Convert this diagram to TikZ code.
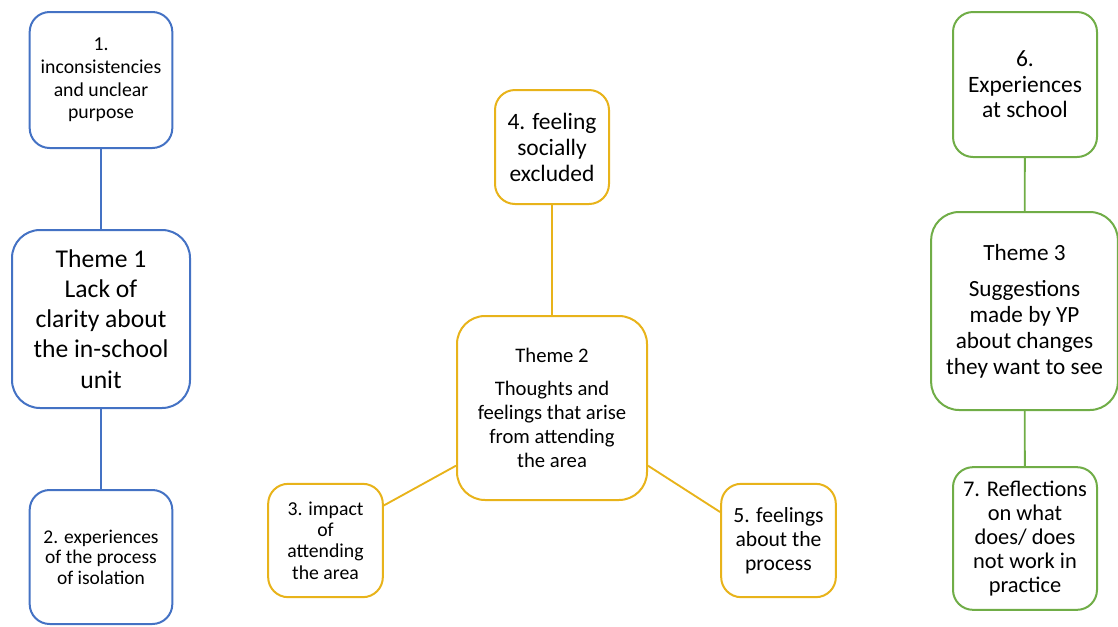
\documentclass[tikz,border=0pt]{standalone}
\usepackage{fontspec}
\setmainfont{Carlito}
\usetikzlibrary{positioning}
\definecolor{themeblue}{HTML}{4472C4}
\definecolor{themegold}{HTML}{E8B31A}
\definecolor{themegreen}{HTML}{70AD47}
\newcommand{\fsz}[2]{\fontsize{#1}{#2}\selectfont}
\tikzset{
  box/.style={draw, line width=1.5pt, rounded corners=15pt, align=center, inner sep=0pt, fill=white},
  themebox/.style={box, rounded corners=21pt},
  link/.style={line width=1.4pt},
}

\begin{document}
\begin{tikzpicture}[x=0.75pt, y=-0.75pt]
        \useasboundingbox (0,0) rectangle (1118,626);
        % theme 1
        \node[box, draw=themeblue, minimum width=107pt, minimum height=102pt, font=\fsz{14.8}{16.9}] (b1) at (101,80) {1.\\inconsistencies\\and unclear\\purpose};
        \node[themebox, draw=themeblue, minimum width=133.5pt, minimum height=133.5pt, font=\fsz{19.2}{22.6}] (t1) at (101,319) {Theme 1\\Lack of\\clarity about\\the in-school\\unit};
        \node[box, draw=themeblue, minimum width=107pt, minimum height=100.5pt, font=\fsz{14.6}{15.4}] (b2) at (101,557) {2. experiences\\of the process\\of isolation};
        \draw[link, themeblue] (b1) -- (t1);
        \draw[link, themeblue] (t1) -- (b2);
        % theme 2
        \node[box, draw=themegold, minimum width=85.5pt, minimum height=85.5pt, font=\fsz{17.6}{19.5}] (b4) at (552,147) {4. feeling\\socially\\excluded};
        \node[themebox, draw=themegold, minimum width=142.5pt, minimum height=138pt, font=\fsz{15.5}{18}] (t2) at (552,408) {Theme 2\\[7pt]Thoughts and\\feelings that arise\\from attending\\the area};
        \node[box, draw=themegold, minimum width=86pt, minimum height=85pt, font=\fsz{14.8}{16.1}] (b3) at (325.5,540.5) {3. impact\\of\\attending\\the area};
        \node[box, draw=themegold, minimum width=86pt, minimum height=85pt, font=\fsz{16.2}{18}] (b5) at (778.5,540.5) {5. feelings\\about the\\process};
        \draw[link, themegold] (b4) -- (t2);
        \draw[link, themegold] (t2.211) -- (b3.31);
        \draw[link, themegold] (t2.329) -- (b5.154);
        % theme 3
        \node[box, draw=themegreen, minimum width=108pt, minimum height=108.75pt, font=\fsz{17.6}{19.1}] (b6) at (1025,84.5) {6.\\Experiences\\at school};
        \node[themebox, draw=themegreen, minimum width=140pt, minimum height=148.5pt, font=\fsz{17.4}{19.5}] (t3) at (1024.5,311) {Theme 3\\[7.5pt]Suggestions\\made by YP\\about changes\\they want to see};
        \node[box, draw=themegreen, minimum width=108pt, minimum height=107pt, font=\fsz{16.8}{18}] (b7) at (1025,538.5) {7. Reflections\\on what\\does/ does\\not work in\\practice};
        \draw[link, themegreen] (b6) -- (t3);
        \draw[link, themegreen] (t3) -- (b7);
\end{tikzpicture}
\end{document}
